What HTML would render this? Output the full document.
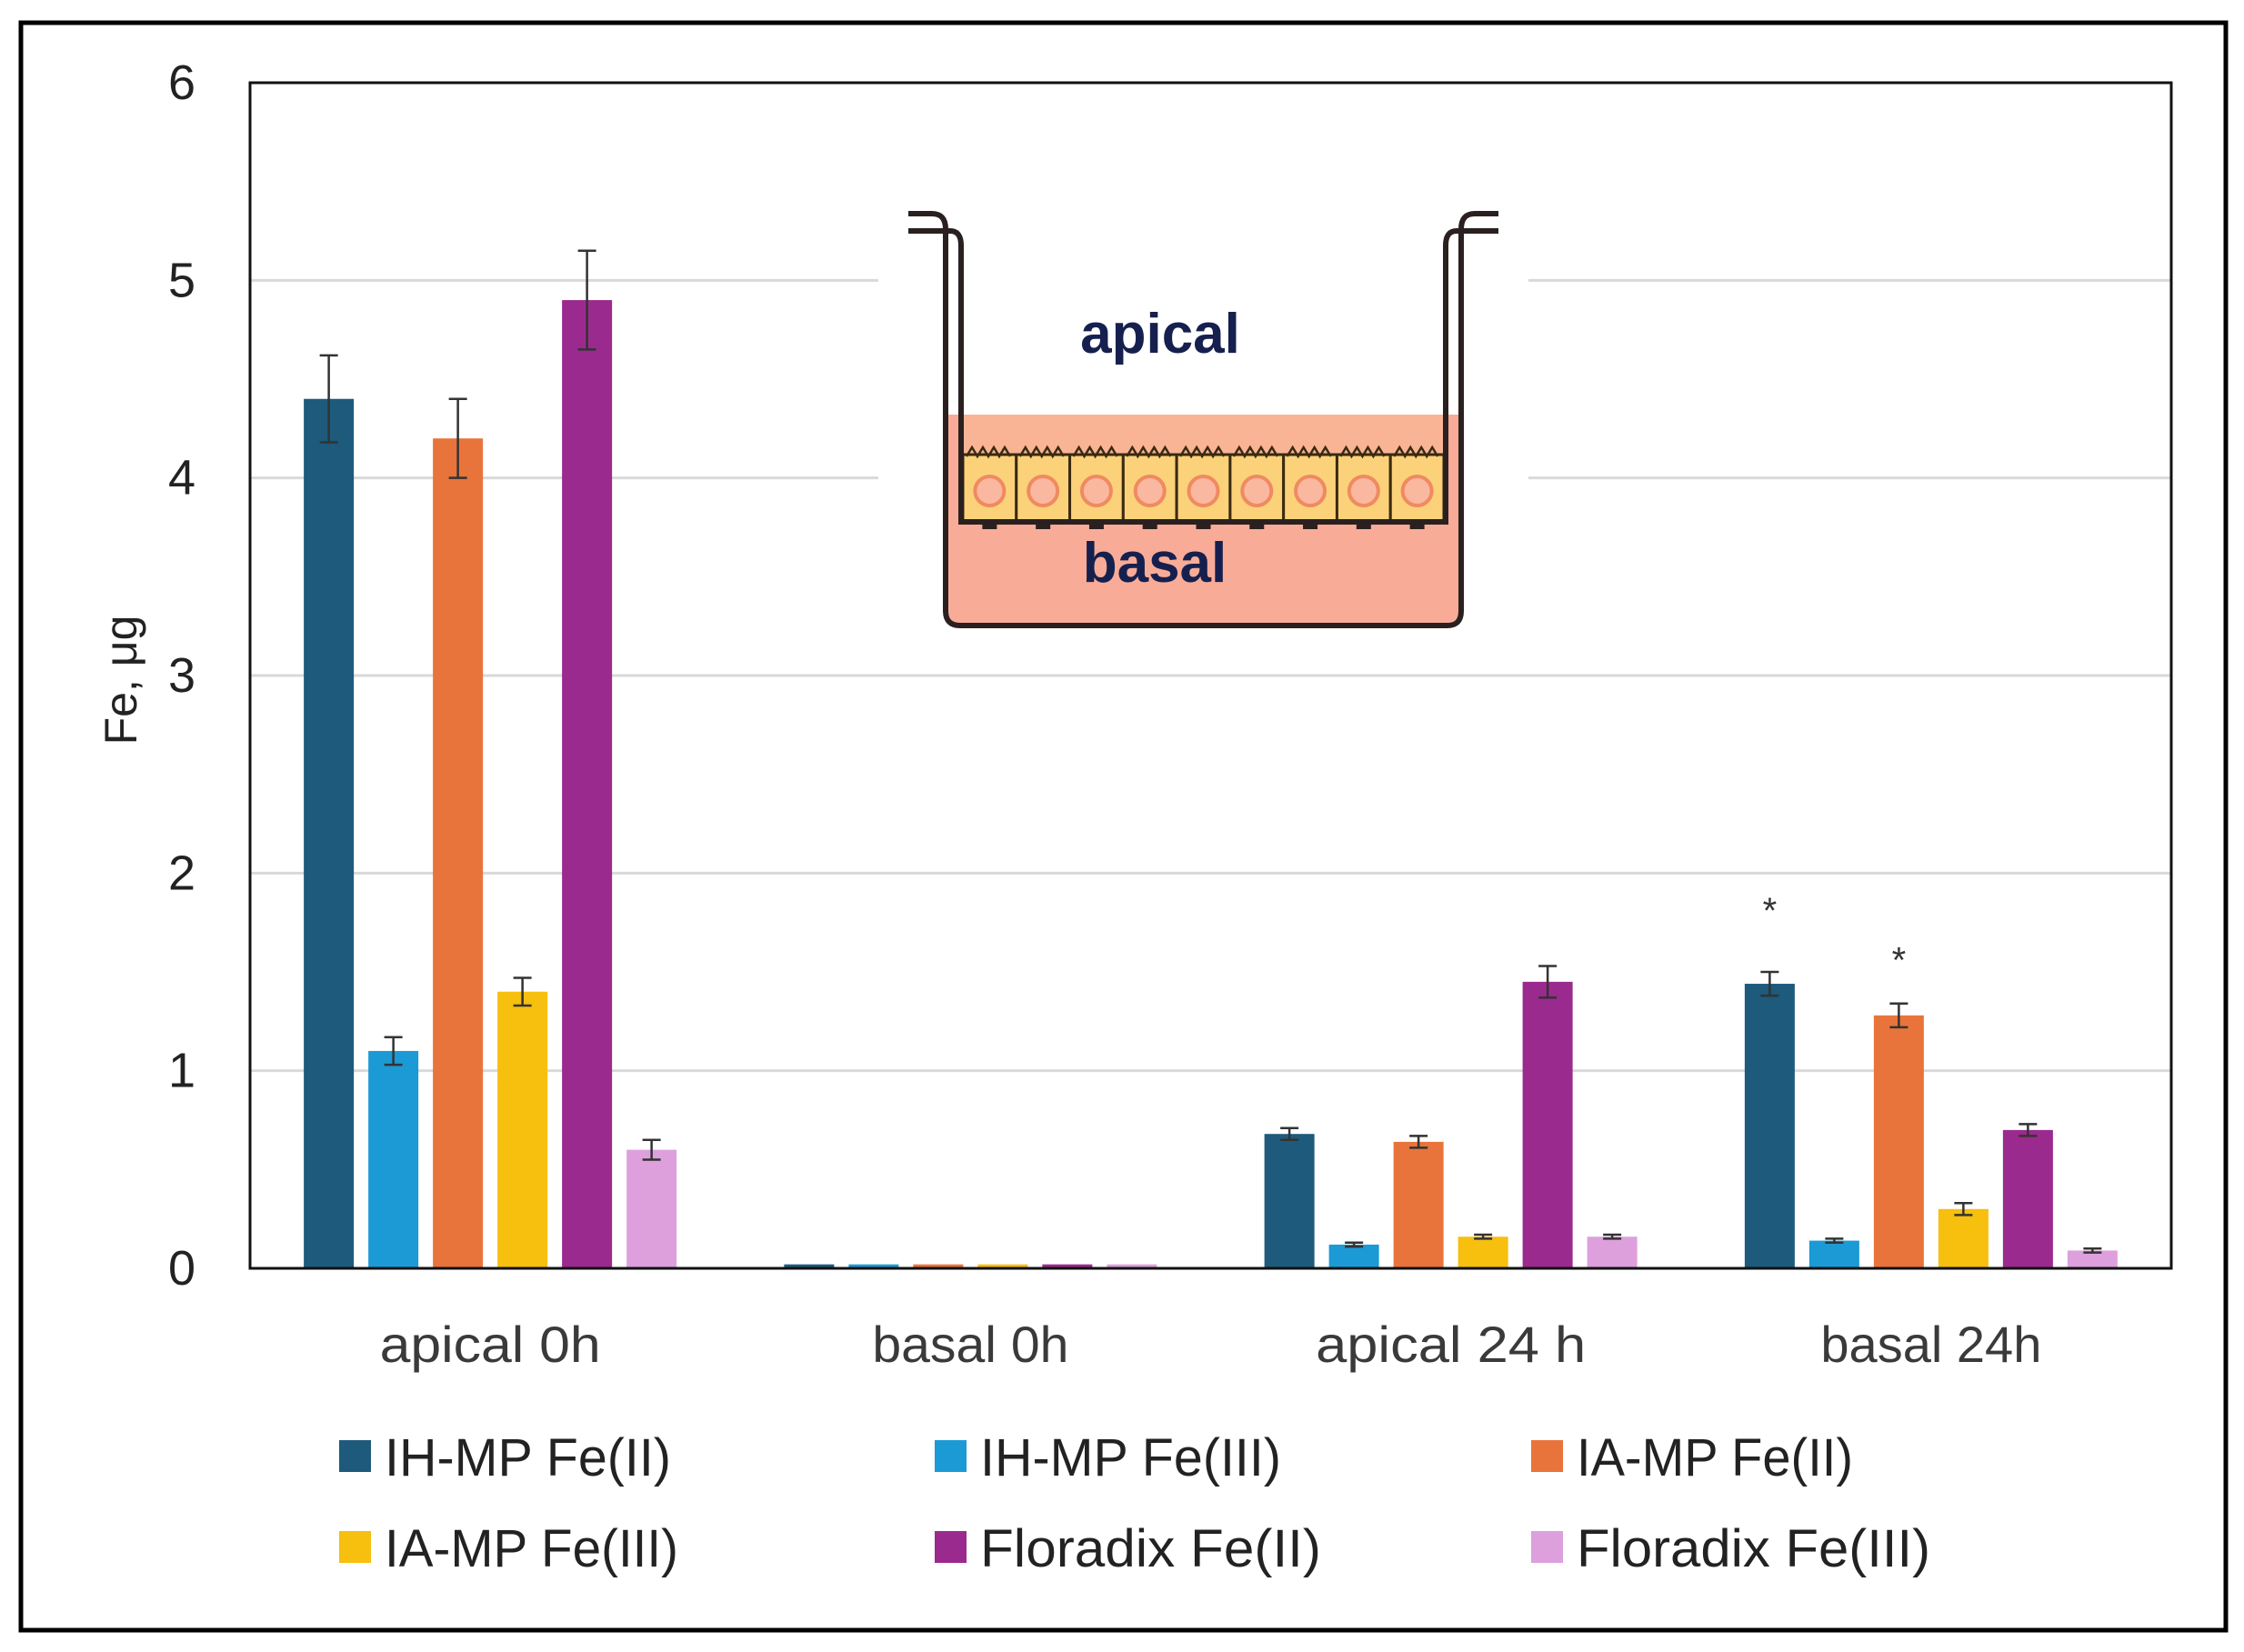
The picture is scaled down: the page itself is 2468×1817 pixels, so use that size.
<!DOCTYPE html>
<html><head><meta charset="utf-8"><style>
html,body{margin:0;padding:0;background:#fff;}
svg{display:block;font-family:"Liberation Sans",sans-serif;}
</style></head><body>
<svg id="chart" width="2468" height="1817" viewBox="0 0 2468 1817">
<rect x="23" y="25" width="2425" height="1768" fill="#fff" stroke="#000" stroke-width="5"/>
<g id="grid"></g>
<g id="bars"></g>
<rect x="275" y="91" width="2113" height="1304" fill="none" stroke="#111" stroke-width="3"/>
<g id="yticks"></g>
<text x="150" y="748" font-size="50" fill="#222" text-anchor="middle" transform="rotate(-90 150 748)">Fe, μg</text>
<g id="xlabels"></g>
<g id="legend"></g>
<g>
<rect x="966" y="215" width="715" height="490" fill="#fff"/>
<path d="M1040 456 L1040 674 Q1040 688 1055 688 L1592 688 Q1607 688 1607 674 L1607 456 Z" fill="#f8ac98"/>
<path d="M1059 456 L1588 456 L1588 574 L1059 574 Z" fill="#f9b496"/>
<g id="cells"></g>
<path d="M999 235 L1025 235 Q1040 235 1040 252 L1040 672 Q1040 688 1056 688 L1592 688 Q1607 688 1607 672 L1607 252 Q1607 235 1622 235 L1648 235" fill="none" stroke="#2a2020" stroke-width="6"/>
<path d="M999 254 L1045 254 Q1057 254 1057 270 L1057 574 L1590 574 L1590 270 Q1590 254 1602 254 L1648 254" fill="none" stroke="#2a2020" stroke-width="6"/>
<text x="1276" y="388" font-size="62" font-weight="bold" fill="#16204e" text-anchor="middle">apical</text>
<text x="1270" y="640" font-size="62" font-weight="bold" fill="#16204e" text-anchor="middle">basal</text>
</g>
</svg>
<script>
const categories=["apical 0h","basal 0h","apical 24 h","basal 24h"];
const seriesNames=["IH-MP Fe(II)","IH-MP Fe(III)","IA-MP Fe(II)","IA-MP Fe(III)","Floradix  Fe(II)","Floradix  Fe(III)"];
const colors=["#1d5a7c","#1b9ad6","#e8743b","#f7bf0e","#9b2a8e","#dda0dd"];
const ihFe2=[4.4,0.02,0.68,1.44];
const ihFe3=[1.1,0.02,0.12,0.14];
const iaFe2=[4.2,0.02,0.64,1.28];
const iaFe3=[1.4,0.02,0.16,0.30];
const floFe2=[4.9,0.02,1.45,0.70];
const floFe3=[0.6,0.02,0.16,0.09];
const ihFe2Err=[0.22,0,0.03,0.06];
const ihFe3Err=[0.07,0,0.01,0.01];
const iaFe2Err=[0.2,0,0.03,0.06];
const iaFe3Err=[0.07,0,0.01,0.03];
const floFe2Err=[0.25,0,0.08,0.03];
const floFe3Err=[0.05,0,0.01,0.01];
const yTicks=[0,1,2,3,4,5,6];
const starValues=[[3,0,1.85],[3,2,1.6]];
const series=[ihFe2,ihFe3,iaFe2,iaFe3,floFe2,floFe3];
const errs=[ihFe2Err,ihFe3Err,iaFe2Err,iaFe3Err,floFe2Err,floFe3Err];
const legendTextWidths=[315,331,304,323,375,389];
const NS="http://www.w3.org/2000/svg";
const L=275,R=2388,T=91,B=1395;
const y=v=>B-(v/6)*(B-T);
const gw=(R-L)/categories.length;
const x=(c,s)=>L+gw*c+gw/2+(s-2.5)*71;
function mk(tag,attrs,parent){const e=document.createElementNS(NS,tag);for(const k in attrs)e.setAttribute(k,attrs[k]);parent.appendChild(e);return e;}
const grid=document.getElementById('grid');
yTicks.forEach(t=>{if(t===0||t===6)return;
 if(t>=4){
  const a=mk('line',{x1:L,x2:966,y1:y(t),y2:y(t),stroke:'#d9d9d9','stroke-width':3},grid);
  
  const b=mk('line',{x1:1681,x2:R,y1:y(t),y2:y(t),stroke:'#d9d9d9','stroke-width':3},grid);
  
 } else {
  const a=mk('line',{x1:L,x2:R,y1:y(t),y2:y(t),stroke:'#d9d9d9','stroke-width':3},grid);
  
 }});
const yt=document.getElementById('yticks');
yTicks.forEach(t=>{const e=mk('text',{x:200,y:y(t)+18,'font-size':54,'text-anchor':'middle',fill:'#222'},yt);e.textContent=t;
 });
const bars=document.getElementById('bars');
series.forEach((s,si)=>{s.forEach((v,ci)=>{
 const cx=x(ci,si);
 const r=mk('rect',{x:cx-27.5,y:y(v),width:55,height:B-y(v),fill:colors[si]},bars);
 
 const er=errs[si][ci];
 if(er>0){const g=mk('path',{d:`M${cx} ${y(v+er)}V${y(v-er)}M${cx-10} ${y(v+er)}H${cx+10}M${cx-10} ${y(v-er)}H${cx+10}`,stroke:'#333','stroke-width':2.5,fill:'none'},bars);
 }
});});
starValues.forEach(sv=>{const e=mk('text',{x:x(sv[0],sv[1]),y:y(sv[2])+22,'font-size':40,'text-anchor':'middle',fill:'#333'},bars);e.textContent='*';
 });
const xl=document.getElementById('xlabels');
categories.forEach((c,i)=>{const e=mk('text',{x:L+gw*i+gw/2,y:1498,'font-size':56,'text-anchor':'middle',fill:'#3a3a3a',textLength:c.length*27,lengthAdjust:'spacingAndGlyphs'},xl);e.textContent=c;
 });
const lg=document.getElementById('legend');
const lx=[373,1028,1684],ly=[1602,1702];
seriesNames.forEach((n,i)=>{const cx=lx[i%3],cy=ly[Math.floor(i/3)];
 const g=mk('g',{},lg);
 mk('rect',{x:cx,y:cy-18,width:35,height:35,fill:colors[i]},g);
 const t=mk('text',{x:cx+50,y:cy+21,'font-size':58,fill:'#222',textLength:legendTextWidths[i],lengthAdjust:'spacingAndGlyphs','xml:space':'preserve'},g);t.textContent=n;});
const cells=document.getElementById('cells');
for(let i=0;i<9;i++){const cx0=1059+i*(529/9),w=529/9;
 mk('rect',{x:cx0,y:500,width:w,height:74,fill:'#fbd27a',stroke:'#3a2a10','stroke-width':3},cells);
 mk('circle',{cx:cx0+w/2,cy:540,r:16,fill:'#fbb8a0',stroke:'#f08a60','stroke-width':4},cells);
 mk('path',{d:`M${cx0+4} 502 l6 -10 l6 10 l6 -10 l6 10 l6 -10 l6 10 l6 -10 l6 10`,fill:'none',stroke:'#3a2a10','stroke-width':2.5},cells);
 mk('rect',{x:cx0+w/2-8,y:574,width:16,height:8,fill:'#2a2020'},cells);}
</script>
</body></html>
